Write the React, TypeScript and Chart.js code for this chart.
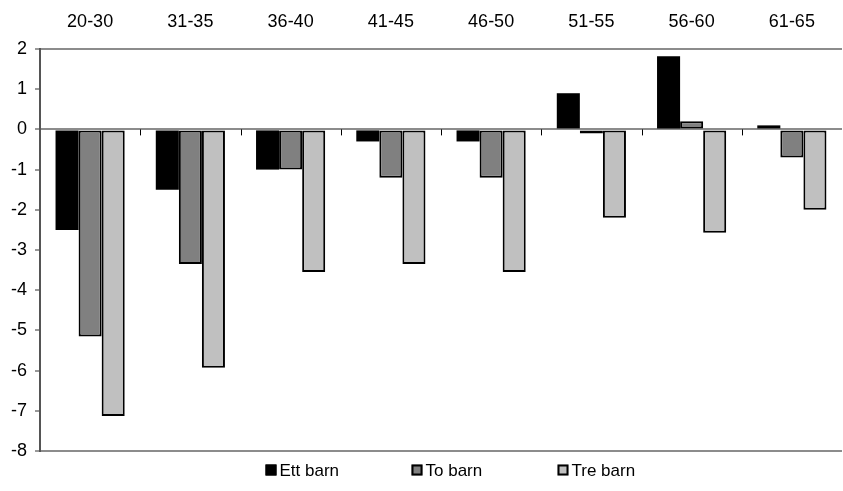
import React, { useEffect, useRef } from "react";
import { Chart, registerables } from "chart.js";

Chart.register(...registerables);

const categories = ["20-30", "31-35", "36-40", "41-45", "46-50", "51-55", "56-60", "61-65"];
const ettBarn = [-2.5, -1.5, -1.0, -0.3, -0.3, 0.9, 1.82, 0.1];
const toBarn = [-5.15, -3.35, -1.0, -1.2, -1.2, -0.1, 0.2, -0.7];
const treBarn = [-7.13, -5.93, -3.55, -3.35, -3.55, -2.2, -2.57, -2.0];
const seriesNames = ["Ett barn", "To barn", "Tre barn"];
const seriesColors = ["#000000", "#808080", "#C0C0C0"];
const yTicks = [2, 1, 0, -1, -2, -3, -4, -5, -6, -7, -8];

const FONT = "'Liberation Sans', Arial, sans-serif";

const zeroTicksPlugin = {
  id: "zeroTicks",
  afterDatasetsDraw(chart: any) {
    const { ctx, chartArea, scales } = chart;
    const y0 = scales.y.getPixelForValue(0);
    const n = categories.length;
    const w = (chartArea.right - chartArea.left) / n;
    ctx.save();
    ctx.strokeStyle = "#000";
    ctx.lineWidth = 1;
    for (let i = 1; i < n; i++) {
      const x = Math.round(chartArea.left + i * w) + 0.5;
      ctx.beginPath();
      ctx.moveTo(x, y0);
      ctx.lineTo(x, y0 + 6);
      ctx.stroke();
    }
    ctx.restore();
  },
};

const legendPlugin = {
  id: "customLegend",
  afterDraw(chart: any) {
    const { ctx, width, height } = chart;
    const spacing = 146;
    const startX = width / 2 - spacing - 10;
    const cy = height - 21;
    ctx.save();
    ctx.font = `17px ${FONT}`;
    ctx.textBaseline = "middle";
    ctx.textAlign = "left";
    seriesNames.forEach((name, i) => {
      const x = startX + i * spacing;
      ctx.fillStyle = seriesColors[i];
      ctx.fillRect(x, cy - 5.5, 11, 11);
      ctx.strokeStyle = "#000";
      ctx.lineWidth = 2;
      ctx.strokeRect(x + 1, cy - 4.5, 9, 9);
      ctx.fillStyle = "#000";
      ctx.fillText(name, x + 14, cy + 1);
    });
    ctx.restore();
  },
};

export default function App() {
  const ref = useRef<HTMLCanvasElement>(null);
  useEffect(() => {
    if (!ref.current) return;
    const chart = new Chart(ref.current, {
      type: "bar",
      data: {
        labels: categories,
        datasets: [
          { label: seriesNames[0], data: ettBarn, backgroundColor: seriesColors[0], borderWidth: 0 },
          { label: seriesNames[1], data: toBarn, backgroundColor: seriesColors[1], borderWidth: 2 },
          { label: seriesNames[2], data: treBarn, backgroundColor: seriesColors[2], borderWidth: 2 },
        ].map((d) => ({
          ...d,
          borderColor: "#000",
          borderSkipped: false,
          categoryPercentage: 0.69,
          barPercentage: 1.0,
        })),
      },
      options: {
        animation: false,
        responsive: false,
        maintainAspectRatio: false,
        layout: { padding: { left: 0, right: 1, top: 0, bottom: 40 } },
        plugins: { legend: { display: false }, tooltip: { enabled: false } },
        scales: {
          x: {
            position: "top",
            grid: { display: false, drawTicks: false },
            border: { display: false },
            ticks: { color: "#000", font: { family: FONT, size: 18 }, padding: 16, maxRotation: 0 },
            afterFit(scale: any) {
              scale.height = 49;
            },
          },
          y: {
            min: -8,
            max: 2,
            afterBuildTicks(scale: any) {
              scale.ticks = yTicks.map((v) => ({ value: v }));
            },
            grid: {
              color: (c: any) => {
                const v = c.tick && c.tick.value;
                return v === 2 || v === 0 || v === -8 ? "#8c8c8c" : "rgba(0,0,0,0)";
              },
              lineWidth: 2,
              tickColor: "#333",
              tickLength: 5,
              tickWidth: 1,
            },
            border: { display: true, color: "#555", width: 2 },
            ticks: { color: "#000", font: { family: FONT, size: 18 }, padding: 8 },
            afterFit(scale: any) {
              scale.width = 40;
            },
          },
        },
      },
      plugins: [zeroTicksPlugin, legendPlugin],
    });
    return () => chart.destroy();
  }, []);
  return (
    <div style={{ position: "fixed", left: 0, top: 0, width: 843, height: 491, background: "#fff" }}>
      <canvas ref={ref} width={843} height={491} style={{ width: 843, height: 491 }} />
    </div>
  );
}
